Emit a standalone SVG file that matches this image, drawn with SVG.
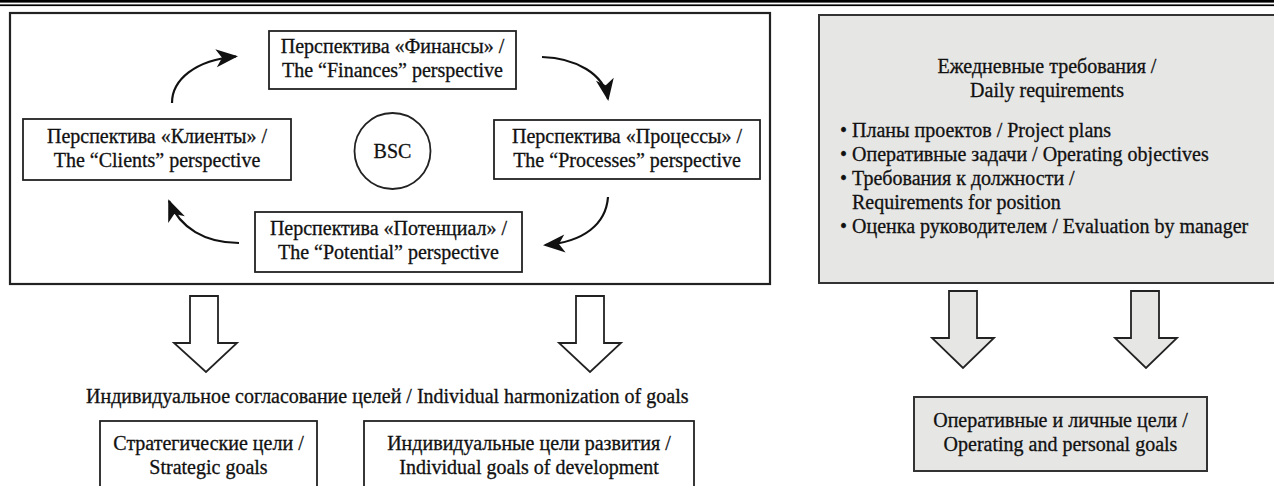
<svg xmlns="http://www.w3.org/2000/svg" width="1274" height="486" viewBox="0 0 1274 486" font-family="'Liberation Serif', 'DejaVu Serif', serif">
<style>
text{font-family:'Liberation Serif','DejaVu Serif',serif;font-size:20px;fill:#111;stroke:#111;stroke-width:0.3}
.c{text-anchor:middle}
.box{fill:#fff;stroke:#222;stroke-width:1.8}
.gbox{fill:#e6e6e5;stroke:#333;stroke-width:2}
.curve{fill:none;stroke:#111;stroke-width:2.2}
.barrow{fill:#fff;stroke:#222;stroke-width:1.8;stroke-linejoin:miter}
.garrow{fill:#e6e6e5;stroke:#222;stroke-width:1.8;stroke-linejoin:miter}
</style>
<defs>
<marker id="ah" viewBox="-22 -10 25 20" refX="0" refY="0" markerWidth="25" markerHeight="20" markerUnits="userSpaceOnUse" orient="auto">
<path d="M2,0 L-20,-9 L-14,0 L-20,9 Z" fill="#111"/>
</marker>
</defs>
<rect x="0" y="0" width="1274" height="2.6" fill="#000"/>
<rect x="0" y="4.4" width="1274" height="1.7" fill="#000"/>

<g id="bsc-frame"><rect x="10" y="13" width="760" height="271" fill="#fff" stroke="#222" stroke-width="2.2"/></g>

<g id="finances"><rect class="box" x="269" y="31" width="247" height="58"/>
<text class="c" x="392.5" y="53">Перспектива «Финансы» /</text>
<text class="c" x="392.5" y="77">The “Finances” perspective</text></g>

<g id="clients"><rect class="box" x="23" y="119" width="268" height="61"/>
<text class="c" x="157" y="143">Перспектива «Клиенты» /</text>
<text class="c" x="157" y="167">The “Clients” perspective</text></g>

<g id="bsc"><circle cx="392.5" cy="151" r="38" fill="#fff" stroke="#222" stroke-width="1.8"/>
<text class="c" x="392.5" y="158">BSC</text></g>

<g id="processes"><rect class="box" x="494" y="120" width="266" height="59"/>
<text class="c" x="627" y="143">Перспектива «Процессы» /</text>
<text class="c" x="627" y="167">The “Processes” perspective</text></g>

<g id="potential"><rect class="box" x="255" y="212" width="267" height="60"/>
<text class="c" x="388.5" y="235">Перспектива «Потенциал» /</text>
<text class="c" x="388.5" y="259">The “Potential” perspective</text></g>

<g id="daily"><rect class="gbox" x="819" y="15" width="470" height="268"/>
<text class="c" x="1047" y="73">Ежедневные требования /</text>
<text class="c" x="1047" y="97">Daily requirements</text>
<text x="840" y="137">• Планы проектов / Project plans</text>
<text x="840" y="161">• Оперативные задачи / Operating objectives</text>
<text x="840" y="185">• Требования к должности /</text>
<text x="852" y="209">Requirements for position</text>
<text x="840" y="233">• Оценка руководителем / Evaluation by manager</text></g>

<g id="harmonization"><text x="86" y="403">Индивидуальное согласование целей / Individual harmonization of goals</text></g>

<g id="strategic"><rect class="box" x="100" y="421" width="217" height="80"/>
<text class="c" x="208.5" y="450">Стратегические цели /</text>
<text class="c" x="208.5" y="474">Strategic goals</text></g>

<g id="development"><rect class="box" x="364" y="421" width="330" height="80"/>
<text class="c" x="529" y="450">Индивидуальные цели развития /</text>
<text class="c" x="529" y="474">Individual goals of development</text></g>

<g id="operating"><rect class="gbox" x="914" y="397" width="293" height="74"/>
<text class="c" x="1060.5" y="427">Оперативные и личные цели /</text>
<text class="c" x="1060.5" y="451">Operating and personal goals</text></g>

<g id="connectors">
<path class="curve" d="M172,103 C172,80 195,60 236,56.5" marker-end="url(#ah)"/>
<path class="curve" d="M542,57 C576,58 604,74 608,99" marker-end="url(#ah)"/>
<path class="curve" d="M608,197 C606,224 584,242 545,245" marker-end="url(#ah)"/>
<path class="curve" d="M239,243 C205,243 180,228 169,201" marker-end="url(#ah)"/>
<polygon class="barrow" points="190,296 218,296 218,343 237,343 206,372 174,343 190,343"/>
<polygon class="barrow" points="576,296 604,296 604,343 621,343 590,372 559,343 576,343"/>
<polygon class="garrow" points="949,291 977,291 977,338 994,338 963,368 932,338 949,338"/>
<polygon class="garrow" points="1131,291 1159,291 1159,338 1177,338 1146,368 1115,338 1131,338"/>
</g>
</svg>
